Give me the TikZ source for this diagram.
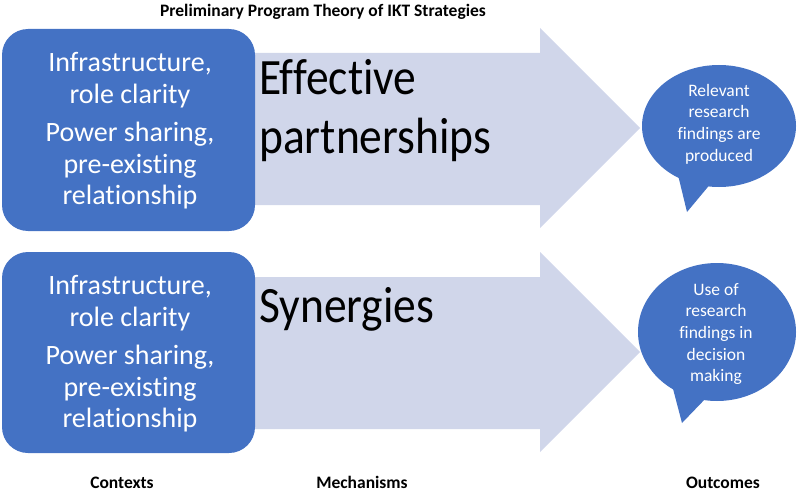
\documentclass[tikz,border=0pt]{standalone}
\usepackage{fontspec}
\setmainfont{Carlito}[Ligatures=NoCommon]
\definecolor{boxblue}{HTML}{4472C4}
\definecolor{arrowfill}{HTML}{D0D6EA}
\begin{document}
\begin{tikzpicture}[x=1pt,y=-1pt,
  ctxbox/.style={fill=boxblue, rounded corners=26pt},
  ctxtext/.style={text=white, align=center, font=\fontsize{28}{31.5}\selectfont},
  mechtext/.style={text=black, anchor=base west, inner sep=0pt, font=\fontsize{45.5}{52}\selectfont},
  bubfill/.style={fill=boxblue},
  bubtext/.style={text=white, align=center, font=\fontsize{17.5}{21.7}\selectfont},
  lbl/.style={inner sep=0pt, anchor=base, font=\bfseries\fontsize{17.5}{19}\selectfont}
]
\useasboundingbox (0,0) rectangle (797,492);
% arrows
\fill[arrowfill] (250,53) -- (540,53) -- (540,28) -- (640,128) -- (540,228) -- (540,205) -- (250,205) -- cycle;
\fill[arrowfill] (250,277) -- (540,277) -- (540,252) -- (640,352) -- (540,452) -- (540,429) -- (250,429) -- cycle;
% context boxes
\fill[ctxbox] (2,29) rectangle (255,231);
\fill[ctxbox] (2,252) rectangle (255,453);
\node[ctxtext] (c1) at (130,131) {Infrastructure,\\ role clarity\\[7pt] Power sharing,\\ pre-existing\\ relationship};
\node[ctxtext] (c2) at (130,354) {Infrastructure,\\ role clarity\\[7pt] Power sharing,\\ pre-existing\\ relationship};
% mechanisms
\node[mechtext] (m1a) at (259,95) {\scalebox{1}[1.12]{Effective}};
\node[mechtext] (m1b) at (259,153) {\scalebox{1}[1.12]{partnerships}};
\node[mechtext] (m2) at (259,322) {\scalebox{1}[1.12]{Synergies}};
% bubbles
\fill[bubfill] (678,175) -- (712,182) -- (687,212) -- cycle;
\fill[bubfill] (719,126) ellipse [x radius=77, y radius=61];
\fill[bubfill] (672,385) -- (708,396) -- (682,423) -- cycle;
\fill[bubfill] (717,332) ellipse [x radius=79, y radius=69];
\node[bubtext] (o1) at (719,124) {Relevant\\ research\\ findings are\\ produced};
\node[bubtext] (o2) at (716,334) {Use of\\ research\\ findings in\\ decision\\ making};
% labels
\node[lbl] (title) at (323,17) {Preliminary Program Theory of IKT Strategies};
\node[lbl] (l1) at (122,488) {Contexts};
\node[lbl] (l2) at (362,488) {Mechanisms};
\node[lbl] (l3) at (723,488) {Outcomes};
\end{tikzpicture}
\end{document}
